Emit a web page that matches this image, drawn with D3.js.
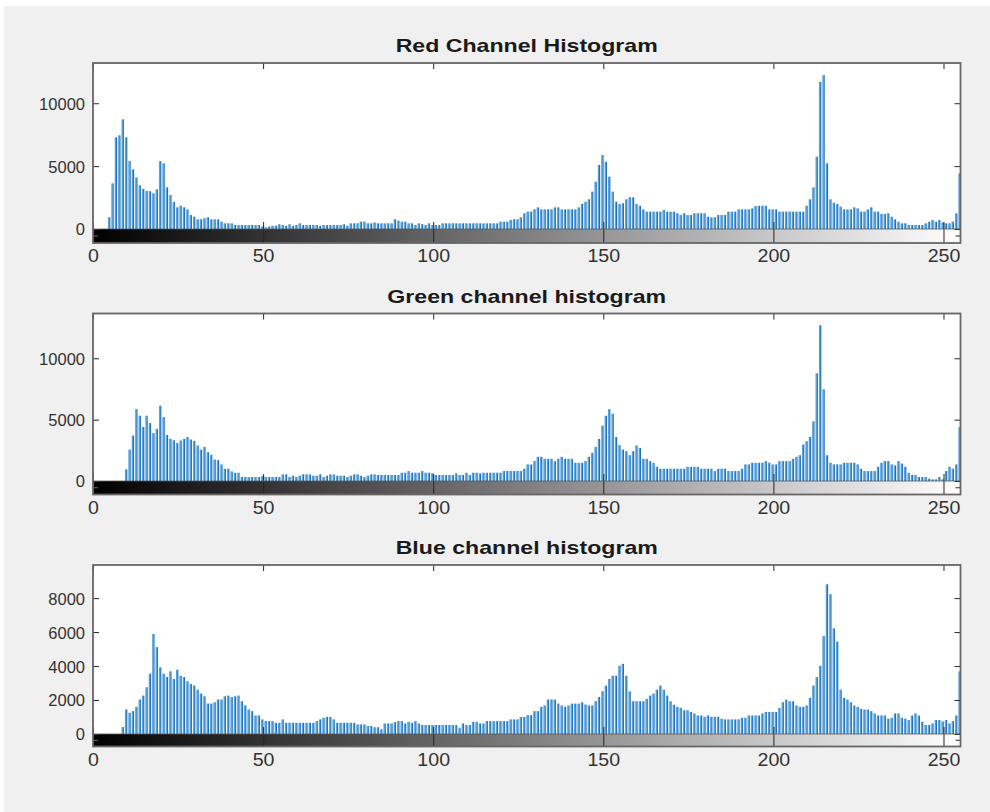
<!DOCTYPE html>
<html>
<head>
<meta charset="utf-8">
<script src="https://cdn.jsdelivr.net/npm/d3@7"></script>
<style>
  body { margin: 0; background: #ffffff; }
  svg { display: block; }
  text { font-family: "Liberation Sans", Arial, Helvetica, sans-serif; }
</style>
</head>
<body>
<svg id="fig" width="990" height="812"></svg>
<script>
// Intensity bins of an 8-bit image
const grayLevels = d3.range(256);

// Pixel counts per intensity level, one array per channel
const redCounts = [
  0, 0, 0, 0, 0, 930, 3630, 7290, 7450, 8720,
  7290, 5400, 4740, 4100, 3470, 3180, 3020, 3000, 2840, 3150,
  5400, 5220, 3310, 2700, 2170, 1720, 1850, 1720, 1560, 1110,
  980, 770, 770, 850, 930, 770, 770, 770, 580, 450,
  450, 450, 320, 320, 320, 320, 320, 320, 320, 320,
  200, 130, 200, 260, 260, 380, 320, 260, 380, 260,
  320, 450, 320, 320, 320, 320, 320, 260, 320, 320,
  320, 320, 320, 320, 380, 260, 450, 450, 450, 580,
  580, 450, 450, 520, 450, 450, 450, 450, 450, 770,
  660, 580, 580, 450, 450, 320, 450, 390, 320, 450,
  320, 320, 320, 450, 450, 450, 450, 450, 450, 450,
  450, 450, 450, 450, 450, 450, 450, 450, 450, 450,
  580, 580, 580, 720, 770, 770, 930, 1250, 1380, 1380,
  1560, 1720, 1560, 1560, 1560, 1560, 1720, 1720, 1560, 1560,
  1560, 1560, 1560, 1720, 1990, 2170, 2360, 2970, 3760, 5090,
  5880, 5350, 4160, 2970, 2170, 1990, 2040, 2360, 2520, 2520,
  1990, 1850, 1560, 1380, 1380, 1380, 1380, 1380, 1510, 1380,
  1380, 1380, 1250, 1110, 1250, 1110, 1110, 1250, 1250, 1250,
  1250, 980, 930, 930, 1110, 1110, 1110, 1380, 1380, 1380,
  1560, 1560, 1560, 1560, 1640, 1830, 1850, 1850, 1850, 1560,
  1560, 1560, 1380, 1380, 1380, 1380, 1380, 1380, 1380, 1380,
  1850, 2360, 3310, 5750, 11700, 12240, 5220, 2360, 2090, 1990,
  1780, 1560, 1560, 1560, 1720, 1640, 1380, 1380, 1560, 1720,
  1380, 1380, 1200, 1200, 1250, 980, 770, 580, 450, 450,
  320, 320, 320, 320, 320, 450, 580, 720, 580, 720,
  530, 450, 450, 580, 1250, 4430
];

const greenCounts = [
  0, 0, 0, 0, 0, 0, 0, 0, 0, 0,
  950, 2560, 3700, 5860, 5320, 4400, 5320, 4720, 3900, 4240,
  6130, 5210, 3750, 3430, 3320, 3100, 3300, 3430, 3590, 3380,
  3270, 2890, 2560, 2780, 2350, 2130, 1750, 1700, 1350, 1000,
  1000, 780, 675, 675, 325, 325, 325, 325, 325, 325,
  400, 325, 325, 325, 325, 325, 540, 540, 325, 430,
  325, 430, 540, 540, 540, 430, 430, 540, 325, 430,
  540, 540, 430, 430, 430, 325, 430, 540, 540, 430,
  325, 430, 540, 540, 490, 490, 490, 490, 490, 490,
  490, 675, 675, 810, 675, 675, 675, 810, 675, 675,
  620, 490, 490, 490, 490, 490, 490, 620, 490, 490,
  675, 490, 675, 675, 620, 675, 675, 675, 675, 675,
  675, 810, 810, 810, 810, 810, 810, 1000, 1350, 1350,
  1620, 1970, 1970, 1810, 1810, 1810, 1620, 1810, 1970, 1810,
  1810, 1810, 1485, 1485, 1485, 1620, 1970, 2300, 2780, 3430,
  4510, 5320, 5860, 5480, 3590, 2920, 2565, 2430, 2100, 2430,
  2890, 2700, 1810, 1810, 1620, 1485, 1160, 1000, 1000, 1000,
  1000, 1000, 1000, 1000, 1000, 1160, 1160, 1160, 1160, 1000,
  1000, 1000, 1000, 810, 1000, 1000, 1000, 810, 810, 810,
  810, 1000, 1350, 1350, 1485, 1485, 1485, 1485, 1620, 1485,
  1350, 1350, 1620, 1620, 1620, 1620, 1810, 1970, 2100, 2970,
  3240, 3590, 4860, 8775, 12690, 7480, 2100, 1485, 1350, 1350,
  1350, 1485, 1485, 1485, 1485, 1350, 1000, 810, 810, 810,
  810, 1160, 1485, 1620, 1620, 1350, 1270, 1620, 1420, 1160,
  675, 490, 490, 325, 325, 325, 190, 135, 135, 325,
  135, 810, 1160, 1000, 1350, 4400
];

const blueCounts = [
  0, 0, 0, 0, 0, 0, 0, 0, 0, 410,
  1440, 1250, 1345, 1600, 2030, 2260, 2750, 3550, 5890, 5110,
  3920, 3550, 3350, 3690, 3240, 3780, 3430, 3350, 3100, 2945,
  2850, 2610, 2380, 2220, 1790, 1790, 1870, 2030, 2030, 2220,
  2260, 2180, 2220, 2260, 1930, 1680, 1440, 1345, 1090, 1090,
  860, 760, 760, 760, 660, 660, 860, 660, 660, 660,
  660, 660, 660, 660, 660, 660, 760, 860, 955, 1010,
  1010, 860, 660, 660, 660, 660, 660, 660, 565, 565,
  565, 470, 470, 400, 400, 275, 620, 620, 620, 700,
  760, 760, 620, 720, 660, 760, 620, 530, 530, 530,
  530, 530, 530, 530, 530, 530, 530, 530, 370, 620,
  530, 530, 720, 720, 620, 620, 760, 760, 760, 760,
  760, 760, 760, 860, 860, 860, 1000, 1000, 1110, 1110,
  1345, 1345, 1600, 1680, 2030, 2030, 2030, 1790, 1680, 1600,
  1680, 1790, 1790, 1790, 1870, 1735, 1680, 1680, 1930, 2180,
  2515, 2850, 3240, 3430, 3430, 4020, 4130, 3430, 2515, 1930,
  1930, 1930, 1930, 2070, 2260, 2380, 2610, 2850, 2610, 2260,
  1930, 1720, 1600, 1540, 1400, 1400, 1300, 1210, 1090, 1090,
  1010, 1090, 1010, 1010, 1010, 900, 860, 860, 860, 860,
  860, 955, 955, 1090, 1090, 1090, 1090, 1210, 1300, 1300,
  1300, 1300, 1540, 1870, 2030, 1930, 1930, 1680, 1600, 1600,
  1680, 2130, 2850, 3350, 4020, 5770, 8810, 8230, 6220, 5440,
  2610, 2130, 2030, 1870, 1680, 1600, 1480, 1440, 1440, 1345,
  1210, 1090, 1090, 1090, 900, 955, 1210, 1210, 955, 900,
  820, 1090, 1210, 1090, 720, 530, 530, 620, 820, 820,
  740, 820, 620, 760, 1090, 3690
];

const panelTitles = ["Red Channel Histogram", "Green channel histogram", "Blue channel histogram"];
const xTickValues = [0, 50, 100, 150, 200, 250];
const redTicks = [0, 5000, 10000];
const greenTicks = [0, 5000, 10000];
const blueTicks = [0, 2000, 4000, 6000, 8000];
const yUpperLimits = [13200, 13650, 9950];

const channelData = [redCounts, greenCounts, blueCounts];
const channelTicks = [redTicks, greenTicks, blueTicks];

// Subplot geometry: histogram axes from top to base, gray ramp from base to bottom
const frames = [
  { top: 63, base: 229, bottom: 243 },
  { top: 313.5, base: 481, bottom: 494.5 },
  { top: 565, base: 734, bottom: 746.5 }
];
const plotLeft = 93, plotRight = 960.5;

const svg = d3.select("#fig");

// figure background
svg.append("rect").attr("x", 4).attr("y", 6).attr("width", 986).attr("height", 806).attr("fill", "#f0f0f0");

const x = d3.scaleLinear().domain([0, 255]).range([plotLeft, plotRight]);

// black-to-white ramp, one stop per intensity level
const defs = svg.append("defs");
const grad = defs.append("linearGradient").attr("id", "grayRamp")
  .attr("gradientUnits", "userSpaceOnUse")
  .attr("x1", x(0)).attr("x2", x(255)).attr("y1", 0).attr("y2", 0);
grad.selectAll("stop").data(grayLevels).join("stop")
  .attr("offset", i => (x(i) - x(0)) / (x(255) - x(0)))
  .attr("stop-color", i => d3.rgb(i, i, i).formatHex());

// widen text horizontally by stretching its glyphs
function widenText(sel, ratio) {
  sel.each(function () {
    const w = this.getComputedTextLength();
    d3.select(this).attr("textLength", w * ratio).attr("lengthAdjust", "spacingAndGlyphs");
  });
}

frames.forEach((f, k) => {
  const counts = channelData[k];
  const y = d3.scaleLinear().domain([0, yUpperLimits[k]]).range([f.base, f.top]);
  const g = svg.append("g");

  const clipId = "clip" + k;
  defs.append("clipPath").attr("id", clipId)
    .append("rect").attr("x", plotLeft).attr("y", f.top)
    .attr("width", plotRight - plotLeft).attr("height", f.bottom - f.top);

  // axes background
  g.append("rect").attr("x", plotLeft).attr("y", f.top)
    .attr("width", plotRight - plotLeft).attr("height", f.base - f.top)
    .attr("fill", "#ffffff");

  // histogram stems
  const bars = g.append("g").attr("clip-path", `url(#${clipId})`);
  bars.selectAll("rect.lt").data(grayLevels).join("rect").attr("class", "lt")
    .attr("x", i => x(i) - 2.1)
    .attr("width", 1.3)
    .attr("y", i => y(counts[i]))
    .attr("height", i => Math.max(0, f.base - y(counts[i])))
    .attr("fill", "#5aa4dc");
  bars.selectAll("rect.dk").data(grayLevels).join("rect").attr("class", "dk")
    .attr("x", i => x(i) - 0.9)
    .attr("width", 1.2)
    .attr("y", i => y(counts[i]))
    .attr("height", i => Math.max(0, f.base - y(counts[i])))
    .attr("fill", "#1c74bc");

  // gray ramp under the histogram
  g.append("rect").attr("x", plotLeft).attr("y", f.base)
    .attr("width", plotRight - plotLeft).attr("height", f.bottom - f.base)
    .attr("fill", "url(#grayRamp)");

  // y axis on the left with labels, ticks pointing inward
  const yAxis = d3.axisLeft(y).tickValues(channelTicks[k]).tickSize(-6).tickPadding(8).tickFormat(d3.format("d"));
  const ya = g.append("g").attr("transform", `translate(${plotLeft},0)`).call(yAxis);
  ya.select(".domain").remove();
  ya.selectAll("line").attr("stroke", "#262626");
  ya.selectAll("text").attr("fill", "#333333").attr("font-size", "16.5px").attr("dy", "0.36em");

  // y ticks on the right
  const yr = g.append("g").attr("transform", `translate(${plotRight},0)`)
    .call(d3.axisRight(y).tickValues(channelTicks[k]).tickSize(-6).tickFormat(""));
  yr.select(".domain").remove();
  yr.selectAll("line").attr("stroke", "#262626");

  // x ticks on the top edge
  const xt = g.append("g").attr("transform", `translate(0,${f.top})`)
    .call(d3.axisTop(x).tickValues(xTickValues).tickSize(-6).tickFormat(""));
  xt.select(".domain").remove();
  xt.selectAll("line").attr("stroke", "#262626");

  // x ticks through the gray ramp, with labels underneath
  const xb = g.append("g").attr("transform", `translate(0,${f.bottom})`)
    .call(d3.axisBottom(x).tickValues(xTickValues).tickSize(-(f.bottom - f.base + 7)).tickPadding(7).tickFormat(d3.format("d")));
  xb.select(".domain").remove();
  xb.selectAll("line").attr("stroke", "#262626");
  xb.selectAll("text").attr("fill", "#333333").attr("font-size", "17.5px");
  widenText(xb.selectAll("text"), 1.12);

  // mid ticks of the ramp axes
  const mid = (f.base + f.bottom) / 2;
  g.append("line").attr("x1", plotLeft).attr("x2", plotLeft + 5).attr("y1", mid).attr("y2", mid).attr("stroke", "#6a6a6a");
  g.append("line").attr("x1", plotRight - 5).attr("x2", plotRight).attr("y1", mid).attr("y2", mid).attr("stroke", "#262626");

  // axes frames
  g.append("rect").attr("x", plotLeft).attr("y", f.top)
    .attr("width", plotRight - plotLeft).attr("height", f.bottom - f.top)
    .attr("fill", "none").attr("stroke", "#666666").attr("stroke-width", 1.8);
  g.append("line").attr("x1", plotLeft).attr("x2", plotRight).attr("y1", f.base).attr("y2", f.base)
    .attr("stroke", "#555555").attr("stroke-width", 0.8);

  // panel title
  const t = g.append("text").attr("x", (plotLeft + plotRight) / 2).attr("y", f.top - 11)
    .attr("text-anchor", "middle").attr("font-weight", "bold").attr("font-size", "18.5px")
    .attr("fill", "#1a1a1a").text(panelTitles[k]);
  widenText(t, 1.25);
});
</script>
</body>
</html>
